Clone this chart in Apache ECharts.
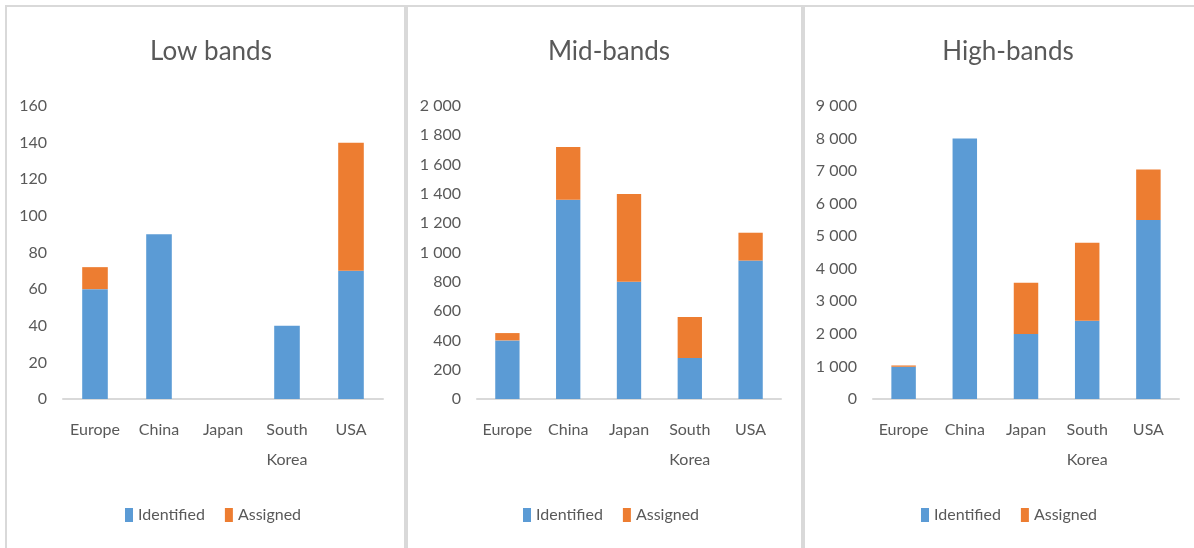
<!DOCTYPE html>
<html>
<head>
<meta charset="utf-8">
<script src="https://cdn.jsdelivr.net/npm/echarts@6/dist/echarts.min.js"></script>
<style>
html,body{margin:0;padding:0;background:#fff;}
#c{width:1194px;height:548px;}
</style>
</head>
<body>
<div id="c"></div>
<script>
var categories = ['Europe', 'China', 'Japan', 'South Korea', 'USA'];
var seriesNames = ['Identified', 'Assigned'];
var titles = ['Low bands', 'Mid-bands', 'High-bands'];

var lowIdentified = [60, 90, 0, 40, 70];
var lowAssigned = [12, 0, 0, 0, 70];
var midIdentified = [400, 1360, 800, 280, 945];
var midAssigned = [50, 360, 600, 280, 190];
var highIdentified = [990, 8000, 2000, 2400, 5500];
var highAssigned = [40, 0, 1570, 2400, 1550];

var lowTicks = [0, 20, 40, 60, 80, 100, 120, 140, 160];
var midTicks = [0, 200, 400, 600, 800, 1000, 1200, 1400, 1600, 1800, 2000];
var highTicks = [0, 1000, 2000, 3000, 4000, 5000, 6000, 7000, 8000, 9000];

var BLUE = '#5b9bd5', ORANGE = '#ed7d31', TXT = '#595959', LINE = '#d9d9d9';
var FONT = 'Lato';

var panels = [
  {title: titles[0], ident: lowIdentified, assig: lowAssigned, ticks: lowTicks, left: 63, width: 320, cx: 206, box: [6, 405], lg: 120},
  {title: titles[1], ident: midIdentified, assig: midAssigned, ticks: midTicks, left: 477, width: 304, cx: 604, box: [407, 802], lg: 518},
  {title: titles[2], ident: highIdentified, assig: highAssigned, ticks: highTicks, left: 873, width: 306, cx: 1003, box: [804, 1210], lg: 916}
];

function fmt(v) {
  return String(v).replace(/\B(?=(\d{3})+(?!\d))/g, ' ');
}

var option = {
  animation: false,
  backgroundColor: '#fff',
  textStyle: {fontFamily: FONT},
  title: [], grid: [], xAxis: [], yAxis: [], series: [], legend: [], graphic: []
};

panels.forEach(function (p, i) {
  option.graphic.push({
    type: 'rect', silent: true, z: -1,
    shape: {x: p.box[0], y: 6, width: p.box[1] - p.box[0], height: 600},
    style: {fill: 'none', stroke: LINE, lineWidth: 2}
  });
  option.title.push({
    text: p.title, left: p.cx, top: 34, textAlign: 'center',
    textStyle: {fontFamily: FONT, fontSize: 26, fontWeight: 'normal', color: TXT}
  });
  option.grid.push({left: p.left, width: p.width, top: 106, bottom: 149, containLabel: false});
  var tks = p.ticks;
  option.xAxis.push({
    type: 'category', gridIndex: i, data: categories,
    axisLine: {lineStyle: {color: LINE, width: 2}},
    axisTick: {show: false},
    axisLabel: {
      color: TXT, fontFamily: FONT, fontSize: 16, lineHeight: 30, margin: 16, interval: 0,
      formatter: function (v) { return v.replace(' ', '\n'); }
    }
  });
  option.yAxis.push({
    type: 'value', gridIndex: i,
    min: tks[0], max: tks[tks.length - 1], interval: tks[1] - tks[0],
    splitLine: {show: false},
    axisLine: {show: false}, axisTick: {show: false},
    axisLabel: {color: TXT, fontFamily: FONT, fontSize: 16, margin: 16, formatter: fmt}
  });
  option.series.push({
    name: seriesNames[0], type: 'bar', stack: 's' + i, xAxisIndex: i, yAxisIndex: i,
    data: p.ident, barWidth: '40%', itemStyle: {color: BLUE}
  });
  option.series.push({
    name: seriesNames[1], type: 'bar', stack: 's' + i, xAxisIndex: i, yAxisIndex: i,
    data: p.assig, barWidth: '40%', itemStyle: {color: ORANGE}
  });
  option.legend.push({
    data: seriesNames, top: 502, left: p.lg, itemWidth: 8, itemHeight: 14, itemGap: 20,
    icon: 'rect', textStyle: {color: TXT, fontFamily: FONT, fontSize: 16}
  });
});

var chart = echarts.init(document.getElementById('c'));
chart.setOption(option);
</script>
</body>
</html>
